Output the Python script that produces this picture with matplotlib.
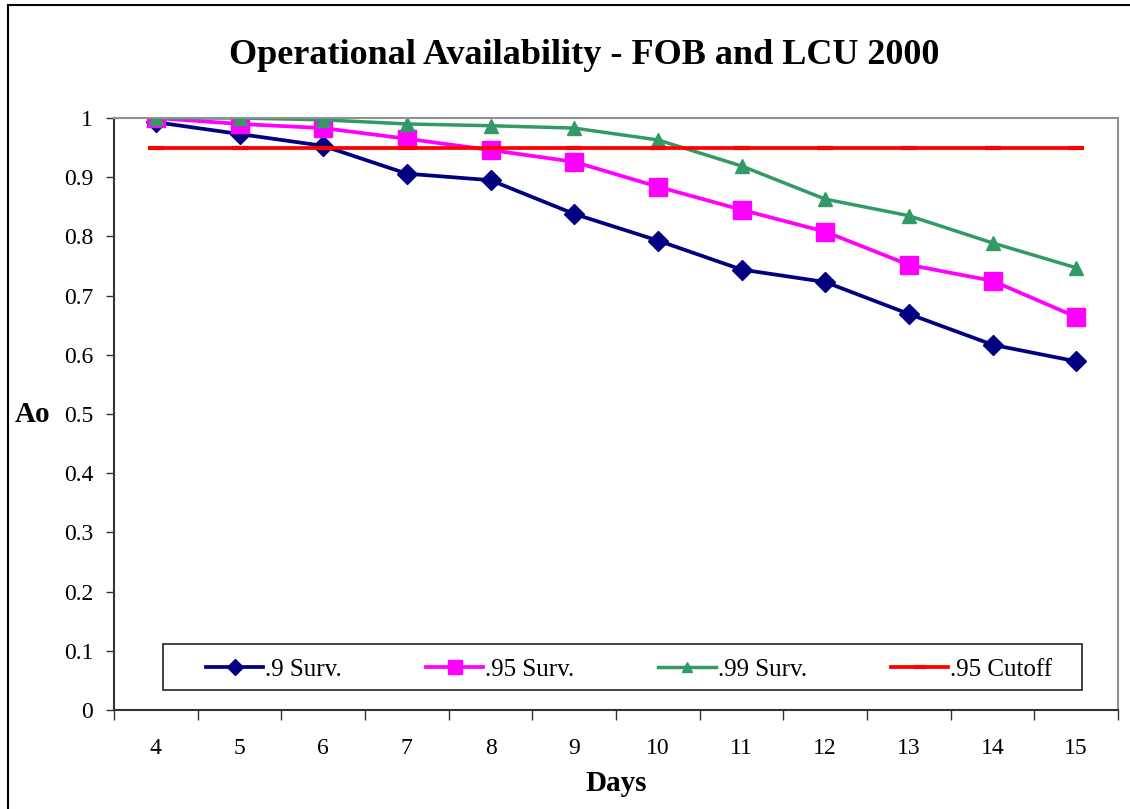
import matplotlib.pyplot as plt
from matplotlib.patches import Rectangle
from matplotlib.lines import Line2D

# -----------------------
# Data
# -----------------------
days = [4, 5, 6, 7, 8, 9, 10, 11, 12, 13, 14, 15]
surv_90 = [0.993, 0.973, 0.953, 0.906, 0.895, 0.838, 0.793, 0.744, 0.723, 0.669, 0.617, 0.589]
surv_95 = [1.0, 0.990, 0.983, 0.965, 0.946, 0.926, 0.884, 0.845, 0.808, 0.752, 0.725, 0.664]
surv_99 = [1.0, 1.0, 0.997, 0.990, 0.987, 0.983, 0.963, 0.919, 0.863, 0.835, 0.789, 0.747]
cutoff = [0.95] * len(days)

plt.rcParams['font.family'] = ['Liberation Serif', 'DejaVu Serif']

fig = plt.figure(figsize=(11.3, 8.09), dpi=100)
ax = fig.add_axes([0.1009, 0.1224, 0.8885, 0.7317])

x = list(range(len(days)))

ax.plot(x, surv_90, color='#000080', lw=2.7, marker='D', ms=10.5, label='.9 Surv.')
ax.plot(x, surv_95, color='#FF00FF', lw=2.7, marker='s', ms=13, label='.95 Surv.')
ax.plot(x, surv_99, color='#339966', lw=2.5, marker='^', ms=9.5, label='.99 Surv.')
ax.plot(x, cutoff, color='#FF0000', lw=2.7, marker='_', ms=12, mew=3, label='.95 Cutoff')

# -----------------------
# Axes
# -----------------------
ax.set_xlim(-0.5, len(days) - 0.5)
ax.set_ylim(0, 1)
ax.set_yticks([i / 10 for i in range(11)])
ax.set_yticklabels(['0', '0.1', '0.2', '0.3', '0.4', '0.5', '0.6', '0.7', '0.8', '0.9', '1'])
ax.tick_params(axis='y', direction='out', length=6, width=1, colors='#333333', labelsize=17, pad=9)
ax.tick_params(axis='y', labelcolor='black')

# tick marks between categories, labels centred
ax.set_xticks([i - 0.5 for i in range(len(days) + 1)])
ax.set_xticklabels([])
ax.set_xticks(x, minor=True)
ax.set_xticklabels([str(d) for d in days], minor=True)
ax.tick_params(axis='x', which='major', direction='out', length=7, width=1, colors='#333333')
ax.tick_params(axis='x', which='minor', length=0, labelsize=17, pad=20)

for s in ['top', 'right']:
    ax.spines[s].set_color('#909090')
    ax.spines[s].set_linewidth(1.5)
for s in ['left', 'bottom']:
    ax.spines[s].set_color('#333333')
    ax.spines[s].set_linewidth(1.5)

ax.set_xlabel('Days', fontsize=21, fontweight='bold', labelpad=8)
ax.set_ylabel('Ao', fontsize=21, fontweight='bold', rotation=0, va='center')
ax.yaxis.set_label_coords(-0.081, 0.5)

fig.text(0.517, 0.931, 'Operational Availability - FOB and LCU 2000',
         ha='center', va='center', fontsize=26, fontweight='bold')

# -----------------------
# Legend (frame drawn separately, like Excel's box)
# -----------------------
ax.add_patch(Rectangle((0.0488, 0.0338), 0.9155, 0.0777, transform=ax.transAxes,
                       fill=False, edgecolor='#222222', lw=1.2, zorder=5))
leg = ax.legend(loc='center left', bbox_to_anchor=(0.0915, 0.068), ncol=4,
                fontsize=18, frameon=False, handlelength=2.3, handletextpad=0.08,
                columnspacing=3.35, borderpad=0, borderaxespad=0, markerscale=0.75)

# outer chart border (left and top edges visible)
fig.add_artist(Line2D([8 / 1130, 8 / 1130], [0, 1 - 5 / 809], transform=fig.transFigure,
                      color='black', lw=1.5))
fig.add_artist(Line2D([8 / 1130, 1], [1 - 5 / 809, 1 - 5 / 809], transform=fig.transFigure,
                      color='black', lw=1.5))

fig.savefig('out.png', dpi=100)
